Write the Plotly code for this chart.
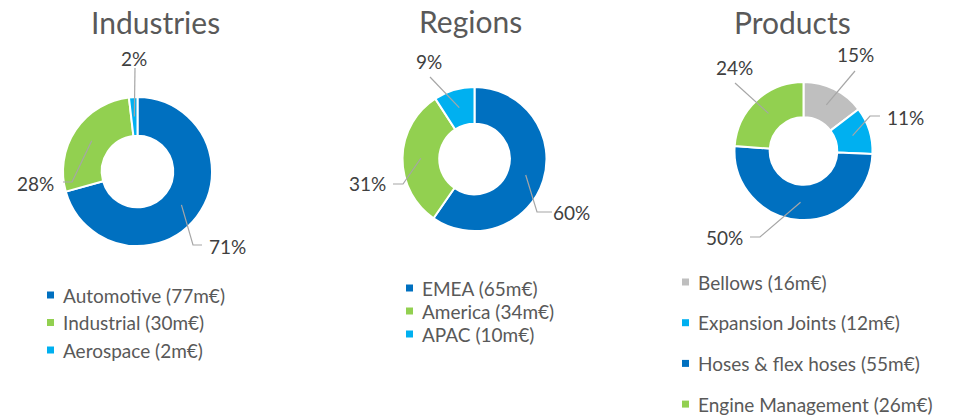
import math
import plotly.graph_objects as go

W, H = 959, 415

# ---------------- data ----------------
ind_labels = ["Automotive", "Industrial", "Aerospace"]
ind_values = [77, 30, 2]
reg_labels = ["EMEA", "America", "APAC"]
reg_values = [65, 34, 10]
prod_labels = ["Bellows", "Expansion Joints", "Hoses & flex hoses", "Engine Management"]
prod_values = [16, 12, 55, 26]
titles = ["Industries", "Regions", "Products"]

DARK = "#0070C0"
GREEN = "#92D050"
LIGHT = "#00B0F0"
GREY = "#BFBFBF"

# ---------------- layout (pixels) ----------------
charts = [
    dict(title=titles[0], labels=ind_labels, values=ind_values,
         colors=[DARK, GREEN, LIGHT],
         cx=137.5, cy=171.5, r=74.5, hole=0.48, title_x=155, title_y=22,
         lab=[(227, 246), (35, 183), (134, 59)],
         path=[[(193, 245), (202, 245)], [(72, 182), (63, 182)], [(135, 68)]],
         leg_x=47, leg_y=295, leg_gap=27.5),
    dict(title=titles[1], labels=reg_labels, values=reg_values,
         colors=[DARK, GREEN, LIGHT],
         cx=474.5, cy=159, r=72, hole=0.49, title_x=470, title_y=21,
         lab=[(571, 212), (367, 184), (429, 62)],
         path=[[(537, 212), (552, 212)], [(403, 184), (393, 184)], [(430, 77)]],
         leg_x=406, leg_y=288, leg_gap=23),
    dict(title=titles[2], labels=prod_labels, values=prod_values,
         colors=[GREY, LIGHT, DARK, GREEN],
         cx=803.5, cy=151, r=69, hole=0.49, title_x=792, title_y=22,
         lab=[(855, 55), (905, 117), (724, 237), (734, 68)],
         path=[[(855, 71)], [(870, 116), (880, 116)], [(760, 237), (750, 237)], [(735, 83)]],
         leg_x=682, leg_y=282, leg_gap=40.7),
]

FONT = "Lato, 'Open Sans', sans-serif"


def px(x):
    return x / W


def py(y):
    return 1 - y / H


fig = go.Figure()
shapes = []
annotations = []

for c in charts:
    cx, cy, r = c["cx"], c["cy"], c["r"]
    fig.add_trace(go.Pie(
        labels=c["labels"], values=c["values"], hole=c["hole"],
        sort=False, direction="clockwise", rotation=0,
        marker=dict(colors=c["colors"], line=dict(color="white", width=2)),
        textinfo="none", hoverinfo="label+value+percent", showlegend=False,
        domain=dict(x=[px(cx - r), px(cx + r)], y=[py(cy + r), py(cy - r)]),
    ))
    annotations.append(dict(text=c["title"], x=px(c["title_x"]), y=py(c["title_y"]),
                            xref="paper", yref="paper", showarrow=False,
                            xanchor="center", yanchor="middle",
                            font=dict(family=FONT, size=30, color="#595959")))
    total = sum(c["values"])
    cum = 0
    rmid = r * (1 + c["hole"]) / 2
    for i, v in enumerate(c["values"]):
        frac_mid = (cum + v / 2) / total
        cum += v
        ang = 2 * math.pi * frac_mid
        sx = cx + rmid * math.sin(ang)
        sy = cy - rmid * math.cos(ang)
        pct = round(100 * v / total)
        lx, ly = c["lab"][i]
        annotations.append(dict(text=f"{pct}%", x=px(lx), y=py(ly),
                                xref="paper", yref="paper", showarrow=False,
                                xanchor="center", yanchor="middle",
                                font=dict(family=FONT, size=19, color="#404040")))
        pts = [(sx, sy)] + c["path"][i]
        d = "M " + " L ".join(f"{px(x):.5f},{py(y):.5f}" for x, y in pts)
        shapes.append(dict(type="path", path=d, xref="paper", yref="paper",
                           line=dict(color="#A6A6A6", width=1.2)))
    for i, lab in enumerate(c["labels"]):
        yy = c["leg_y"] + i * c["leg_gap"]
        x0 = c["leg_x"]
        shapes.append(dict(type="rect", xref="paper", yref="paper",
                           x0=px(x0), x1=px(x0 + 7), y0=py(yy + 3.5), y1=py(yy - 3.5),
                           fillcolor=c["colors"][i], line=dict(width=0)))
        annotations.append(dict(text=f"{lab} ({c['values'][i]}m€)", x=px(x0 + 14), y=py(yy),
                                xref="paper", yref="paper", showarrow=False,
                                xanchor="left", yanchor="middle",
                                font=dict(family=FONT, size=19, color="#595959")))

fig.update_layout(width=W, height=H, margin=dict(l=0, r=0, t=0, b=0),
                  paper_bgcolor="white", plot_bgcolor="white",
                  shapes=shapes, annotations=annotations)
fig.write_html("out.html", config={"displayModeBar": False},
               post_script="document.body.style.margin='0';document.body.style.overflow='hidden';")
